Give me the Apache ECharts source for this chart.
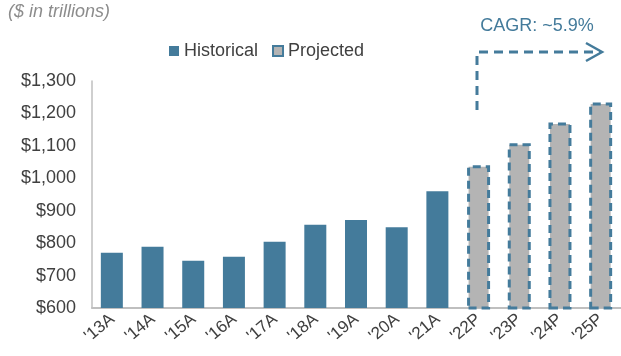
<!DOCTYPE html>
<html>
<head>
  <meta charset="utf-8">
  <script src="https://cdn.jsdelivr.net/npm/echarts@6/dist/echarts.min.js"></script>
</head>
<body style="margin: 0">
  <div id="container" style="width:621px;height:356px"></div>
  <script type="text/javascript">
    var years = ["'13A", "'14A", "'15A", "'16A", "'17A", "'18A", "'19A", "'20A", "'21A", "'22P", "'23P", "'24P", "'25P"];
    var historical = [770, 789, 746, 758, 804, 857, 871, 849, 960, '-', '-', '-', '-'];
    var projected = ['-', '-', '-', '-', '-', '-', '-', '-', '-', 1040, 1108, 1172, 1234];
    var cagrText = 'CAGR: ~5.9%';

    var blue = '#447b9b';
    var font = 'Liberation Sans';

    var myChart = echarts.init(document.getElementById('container'), null, { renderer: 'canvas' });

    var option = {
      animation: false,
      textStyle: { fontFamily: font },
      grid: { left: 92, right: -3, top: 81, bottom: 48 },
      legend: {
        left: 164, top: 37,
        itemWidth: 10, itemHeight: 10, itemGap: 14,
        textStyle: { fontSize: 18, color: '#404040', fontFamily: font },
        data: [
          { name: 'Historical', icon: 'rect', itemStyle: { borderWidth: 0 } },
          { name: 'Projected', icon: 'rect' }
        ]
      },
      xAxis: {
        type: 'category',
        data: years,
        axisLine: { lineStyle: { color: '#bfbfbf', width: 2 } },
        axisTick: { show: false },
        axisLabel: { rotate: 40, fontSize: 17, color: '#404040', margin: 9, fontFamily: font }
      },
      yAxis: {
        type: 'value',
        min: 600, max: 1300, interval: 100,
        splitLine: { show: false },
        axisLine: { show: true, lineStyle: { color: '#bfbfbf', width: 1.5 } },
        axisTick: { show: false },
        axisLabel: {
          fontSize: 18, color: '#404040', margin: 16, fontFamily: font,
          formatter: function (v) { return '$' + v.toLocaleString('en-US'); }
        }
      },
      series: [
        {
          name: 'Historical', type: 'bar', data: historical,
          barWidth: 22, barGap: '-100%',
          itemStyle: { color: blue }
        },
        {
          name: 'Projected', type: 'bar', data: projected,
          barWidth: 23,
          itemStyle: {
            color: '#b4b4b4', borderColor: blue, borderWidth: 3,
            borderType: [8, 5]
          }
        }
      ],
      graphic: [
        {
          type: 'text', left: 8, top: 3,
          style: { text: '($ in trillions)', fontSize: 18, fontStyle: 'italic', fill: '#8c8c8c', fontFamily: font }
        },
        {
          type: 'text', x: 537, y: 26,
          style: { text: cagrText, fontSize: 18, fill: blue, fontFamily: font, align: 'center', verticalAlign: 'middle' }
        },
        {
          type: 'polyline',
          shape: { points: [[477, 110], [477, 52], [601, 52]] },
          style: { stroke: blue, lineWidth: 3, fill: null, lineDash: [9, 6] }
        },
        {
          type: 'polyline',
          shape: { points: [[586, 43], [602, 52], [586, 61]] },
          style: { stroke: blue, lineWidth: 2.5, fill: null }
        }
      ]
    };

    myChart.setOption(option);
    window.addEventListener('resize', myChart.resize);
  </script>
</body>
</html>
